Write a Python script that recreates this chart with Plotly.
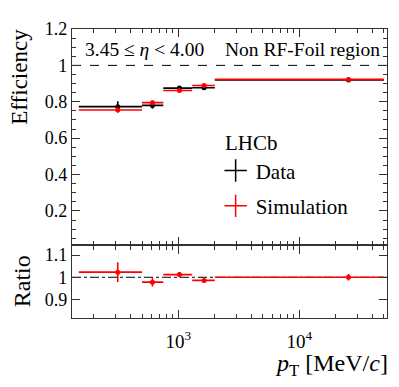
import plotly.graph_objects as go

# pT bins [MeV/c]
bin_edges = [150, 500, 750, 1300, 2000, 50000]
pt_points = [315, 610, 1020, 1630, 25500]

eff_data = [0.773, 0.780, 0.875, 0.877, 0.920]
err_data = [0.030, 0.018, 0.010, 0.009, 0.012]
eff_sim = [0.755, 0.795, 0.862, 0.889, 0.923]
err_sim = [0.014, 0.012, 0.008, 0.008, 0.009]
ratio = [1.023, 0.978, 1.012, 0.986, 1.000]
err_ratio = [0.044, 0.020, 0.012, 0.010, 0.015]

x_ticks = [1000, 10000]
x_ticktext = ["10<sup>3</sup>", "10<sup>4</sup>"]

x_lo = [p - lo for p, lo in zip(pt_points, bin_edges[:-1])]
x_hi = [hi - p for p, hi in zip(pt_points, bin_edges[1:])]

FONT = "Liberation Serif"
AX = "#333333"


def series(y, err, color, name, xaxis, yaxis, group):
    return go.Scatter(
        x=pt_points, y=y, mode="markers", name=name,
        xaxis=xaxis, yaxis=yaxis, showlegend=False, legendgroup=group,
        marker=dict(color=color, size=5, symbol="circle"),
        error_x=dict(type="data", symmetric=False, array=x_hi, arrayminus=x_lo,
                     color=color, thickness=1.6, width=0),
        error_y=dict(type="data", array=err, color=color, thickness=1.6, width=0),
    )


fig = go.Figure()
fig.add_trace(series(eff_data, err_data, "black", "Data", "x", "y", "d"))
fig.add_trace(series(eff_sim, err_sim, "red", "Simulation", "x", "y", "s"))
fig.add_trace(series(ratio, err_ratio, "red", "Ratio", "x2", "y2", "r"))

# legend keys
fig.add_trace(go.Scatter(x=[None], y=[None], mode="markers", name="Data", legendgroup="d",
                         marker=dict(symbol="cross-thin", size=16, line=dict(color="black", width=1.5))))
fig.add_trace(go.Scatter(x=[None], y=[None], mode="markers", name="Simulation", legendgroup="s",
                         marker=dict(symbol="cross-thin", size=16, line=dict(color="red", width=1.5))))

fig.add_shape(type="line", xref="x domain", yref="y", x0=0, x1=1, y0=1, y1=1,
              line=dict(color="black", width=1, dash="dash"), layer="below")
fig.add_shape(type="line", xref="x2 domain", yref="y2", x0=0, x1=1, y0=1, y1=1,
              line=dict(color="black", width=1, dash="dashdot"), layer="below")

minor_x = [m * 10 ** e for e in (2, 3, 4) for m in range(2, 10)]

xcommon = dict(type="log", range=[2.12, 4.725], showline=True, linecolor=AX, linewidth=1.3,
               mirror="allticks", ticks="inside", ticklen=8, tickcolor=AX, tickwidth=1,
               showgrid=False, zeroline=False, tickmode="array", tickvals=x_ticks,
               ticktext=x_ticktext, ticklabelstandoff=6,
               minor=dict(ticks="inside", ticklen=4, tickcolor=AX, tickmode="array",
                          tickvals=minor_x, showgrid=False),
               tickfont=dict(family=FONT, size=19, color="black"))
ycommon = dict(showline=True, linecolor=AX, linewidth=1.3, mirror="allticks",
               ticks="inside", ticklen=8, tickcolor=AX, tickwidth=1, showgrid=False,
               zeroline=False, tickfont=dict(family=FONT, size=18, color="black"))

# the page body adds an 8 px offset, so the figure is 8 px smaller on each side
fig.update_layout(
    width=391, height=379,
    margin=dict(l=64, r=11, t=13, b=69),
    plot_bgcolor="white", paper_bgcolor="white",
    font=dict(family=FONT, color="black"),
    xaxis=dict(xcommon, anchor="y", showticklabels=False, matches="x2"),
    yaxis=dict(ycommon, domain=[0.251, 1], range=[0.01, 1.2], dtick=0.2, tick0=0,
               minor=dict(ticks="inside", ticklen=4, tickcolor=AX, dtick=0.05, showgrid=False)),
    xaxis2=dict(xcommon, anchor="y2"),
    yaxis2=dict(ycommon, domain=[0, 0.251], range=[0.817, 1.143], dtick=0.1, tick0=0),
    showlegend=True,
    legend=dict(x=0.456, y=0.58, xanchor="left", yanchor="top", bgcolor="rgba(0,0,0,0)",
                font=dict(family=FONT, size=21, color="black"), tracegroupgap=5,
                itemsizing="trace"),
)

ann = dict(xref="paper", yref="paper", showarrow=False, font=dict(family=FONT, color="black"))
fig.add_annotation(ann, x=0.035, y=0.93, xanchor="left", yanchor="middle",
                   text="3.45 ≤ <i>η</i> < 4.00", font_size=19.5)
fig.add_annotation(ann, x=0.984, y=0.93, xanchor="right", yanchor="middle",
                   text="Non RF-Foil region", font_size=19.5)
fig.add_annotation(ann, x=0.478, y=0.607, xanchor="left", yanchor="middle",
                   text="LHCb", font_size=21)
fig.add_annotation(ann, x=-0.165, y=0.835, xanchor="center", yanchor="middle",
                   text="Efficiency", textangle=-90, font_size=23)
fig.add_annotation(ann, x=-0.158, y=0.128, xanchor="center", yanchor="middle",
                   text="Ratio", textangle=-90, font_size=24)
fig.add_annotation(ann, x=1.0, y=-0.103, xanchor="right", yanchor="top", xshift=3,
                   text="<i>p</i><sub>T</sub> [MeV/<i>c</i>]", font_size=24)

fig.write_html("out.html")
